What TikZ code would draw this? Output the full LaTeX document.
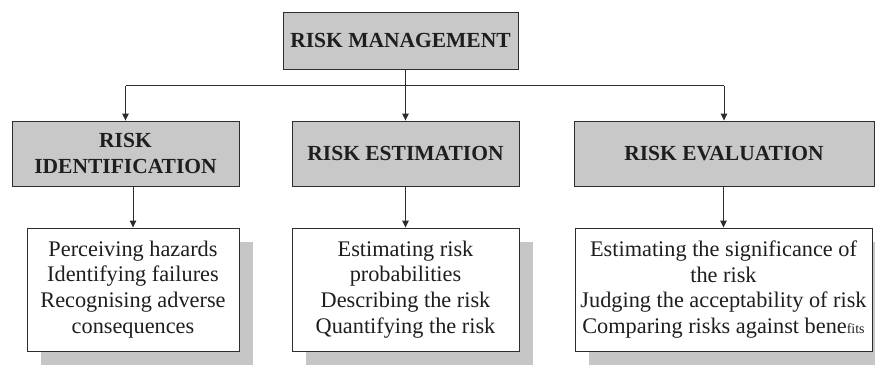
\documentclass[tikz,border=0pt]{standalone}
\usepackage{fontspec}
\setmainfont{Liberation Serif}
\usetikzlibrary{arrows.meta,shadows}
\definecolor{boxgray}{RGB}{200,200,200}
\definecolor{shadegray}{RGB}{198,198,198}
\definecolor{linegray}{RGB}{45,45,45}
\definecolor{inkc}{RGB}{30,30,30}
\begin{document}
\begin{tikzpicture}[x=1pt,y=-1pt,
  headbox/.style={draw=linegray, line width=0.9pt, fill=boxgray, text=inkc,
    inner sep=0pt, align=center, font=\fontsize{21.5}{26}\selectfont\bfseries},
  itembox/.style={draw=linegray, line width=0.9pt, fill=white, text=inkc,
    inner sep=0pt, align=center, font=\fontsize{22.3}{25.8}\selectfont,
    drop shadow={shadow xshift=14pt, shadow yshift=-14pt, fill=shadegray, opacity=1}},
  link/.style={draw=linegray, line width=0.9pt},
  arr/.style={link, -{Triangle[length=7pt,width=6.5pt]}}]
  \clip (0,0) rectangle (875,368);

  % top level
  \node[headbox, minimum width=235, minimum height=57] (mgmt) at (400.5,40.5) {RISK MANAGEMENT};

  % second level
  \node[headbox, minimum width=227, minimum height=65] (ident) at (125.5,153.5) {RISK\\IDENTIFICATION};
  \node[headbox, minimum width=227, minimum height=65] (estim) at (405.5,153.5) {RISK ESTIMATION};
  \node[headbox, minimum width=300, minimum height=65] (evalu) at (724,153.5) {RISK EVALUATION};

  % activity lists
  \node[itembox, minimum width=212, minimum height=123] (identlist) at (133,289.5)
    {Perceiving hazards\\Identifying failures\\Recognising adverse\\consequences};
  \node[itembox, minimum width=227, minimum height=123] (estimlist) at (405.5,289.5)
    {Estimating risk\\probabilities\\Describing the risk\\Quantifying the risk};
  \node[itembox, minimum width=297, minimum height=123] (evalulist) at (723.5,289.5)
    {Estimating the significance of\\the risk\\Judging the acceptability of risk\\Comparing risks against bene{\fontsize{14}{25.8}\selectfont fits}};

  % connectors
  \coordinate (bus) at (0,85.5);
  \draw[link] (bus -| ident.north) -- (bus -| evalu.north);
  \draw[arr] (mgmt.south -| estim.north) -- (estim.north);
  \draw[arr] (bus -| ident.north) -- (ident.north);
  \draw[arr] (bus -| evalu.north) -- (evalu.north);
  \draw[arr] (ident.south -| identlist.north) -- (identlist.north);
  \draw[arr] (estim.south -| estimlist.north) -- (estimlist.north);
  \draw[arr] (evalu.south -| evalulist.north) -- (evalulist.north);
\end{tikzpicture}
\end{document}
